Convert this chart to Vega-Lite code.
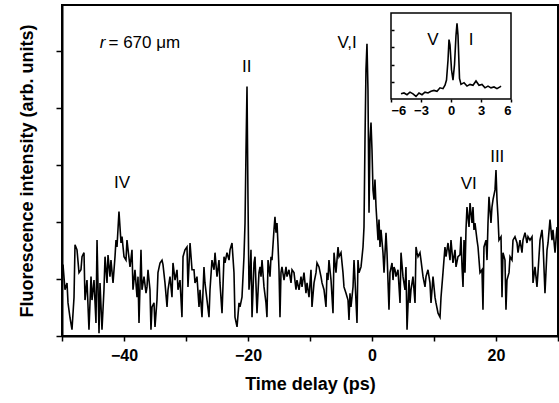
{
  "$schema": "https://vega.github.io/schema/vega-lite/v6.json",
  "width": 496,
  "height": 331,
  "autosize": {"type": "none"},
  "padding": {"left": 62, "top": 5, "right": 1, "bottom": 67},
  "background": "white",
  "config": {
    "view": {"stroke": "black", "strokeWidth": 2},
    "font": "Liberation Sans",
    "axis": {"domainColor": "black", "domainWidth": 2, "tickColor": "black", "tickWidth": 1.5, "labelColor": "black", "titleColor": "black", "grid": false, "labelFont": "Liberation Sans", "titleFont": "Liberation Sans"}
  },
  "datasets": {
    "main": [
      {"t": -50.0, "v": 1.07}, {"t": -49.84, "v": 1.25}, {"t": -49.52, "v": 0.81}, {"t": -49.19, "v": 0.93}, {"t": -49.03, "v": 0.58}, {"t": -48.71, "v": 0.32}, {"t": -48.39, "v": 0.11}, {"t": -48.06, "v": 0.68}, {"t": -47.9, "v": 1.6}, {"t": -47.58, "v": 1.51}, {"t": -47.26, "v": 1.11}, {"t": -46.94, "v": 1.16}, {"t": -46.77, "v": 1.39}, {"t": -46.45, "v": 1.46}, {"t": -46.29, "v": 0.63}, {"t": -45.97, "v": 0.98}, {"t": -45.65, "v": 0.11}, {"t": -45.32, "v": 1.04}, {"t": -45.16, "v": 0.63}, {"t": -44.84, "v": 0.98}, {"t": -44.52, "v": 0.23}, {"t": -44.35, "v": 1.68}, {"t": -44.03, "v": 0.05}, {"t": -43.87, "v": 0.93}, {"t": -43.55, "v": 0.11}, {"t": -43.23, "v": 0.81}, {"t": -43.06, "v": 1.39}, {"t": -42.74, "v": 0.93}, {"t": -42.58, "v": 1.42}, {"t": -42.26, "v": 1.04}, {"t": -42.1, "v": 1.33}, {"t": -41.77, "v": 0.93}, {"t": -41.45, "v": 1.39}, {"t": -41.29, "v": 1.68}, {"t": -41.13, "v": 1.56}, {"t": -40.81, "v": 2.18}, {"t": -40.48, "v": 1.63}, {"t": -40.32, "v": 1.74}, {"t": -40.0, "v": 1.39}, {"t": -39.68, "v": 1.33},
      {"t": -39.52, "v": 1.68}, {"t": -39.03, "v": 1.21}, {"t": -38.71, "v": 1.51}, {"t": -38.55, "v": 0.81}, {"t": -38.23, "v": 1.16}, {"t": -37.9, "v": 0.68}, {"t": -37.74, "v": 1.04}, {"t": -37.58, "v": 0.23}, {"t": -37.26, "v": 1.51}, {"t": -37.1, "v": 0.81}, {"t": -36.77, "v": 1.04}, {"t": -36.45, "v": 0.75}, {"t": -36.29, "v": 0.86}, {"t": -36.13, "v": 1.16}, {"t": -35.81, "v": 0.81}, {"t": -35.65, "v": 0.11}, {"t": -35.48, "v": 0.51}, {"t": -35.16, "v": 0.58}, {"t": -35.0, "v": 0.16}, {"t": -34.68, "v": 0.63}, {"t": -34.52, "v": 1.11}, {"t": -34.19, "v": 1.28}, {"t": -33.87, "v": 1.33}, {"t": -33.71, "v": 1.25}, {"t": -33.39, "v": 0.93}, {"t": -33.06, "v": 0.51}, {"t": -32.9, "v": 0.81}, {"t": -32.58, "v": 1.04}, {"t": -32.26, "v": 0.68}, {"t": -32.1, "v": 1.28}, {"t": -31.77, "v": 0.98}, {"t": -31.45, "v": 1.16}, {"t": -31.29, "v": 0.81}, {"t": -30.97, "v": 0.98}, {"t": -30.65, "v": 0.33}, {"t": -30.48, "v": 1.39}, {"t": -30.16, "v": 1.51}, {"t": -29.84, "v": 1.56}, {"t": -29.68, "v": 0.86}, {"t": -29.35, "v": 1.63}, {"t": -29.03, "v": 1.16},
      {"t": -28.71, "v": 1.16}, {"t": -28.55, "v": 0.93}, {"t": -28.23, "v": 1.04}, {"t": -27.9, "v": 0.51}, {"t": -27.74, "v": 0.81}, {"t": -27.42, "v": 0.33}, {"t": -27.1, "v": 1.21}, {"t": -26.94, "v": 0.93}, {"t": -26.61, "v": 0.63}, {"t": -26.29, "v": 0.33}, {"t": -26.13, "v": 0.81}, {"t": -25.81, "v": 1.33}, {"t": -25.48, "v": 1.16}, {"t": -25.32, "v": 1.46}, {"t": -25.0, "v": 1.04}, {"t": -24.68, "v": 1.33}, {"t": -24.52, "v": 0.93}, {"t": -24.19, "v": 0.4}, {"t": -23.87, "v": 1.39}, {"t": -23.71, "v": 1.28}, {"t": -23.39, "v": 1.46}, {"t": -23.06, "v": 1.33}, {"t": -22.9, "v": 1.51}, {"t": -22.58, "v": 1.63}, {"t": -22.26, "v": 1.11}, {"t": -22.1, "v": 0.33}, {"t": -21.77, "v": 0.16}, {"t": -21.45, "v": 0.58}, {"t": -21.29, "v": 0.51}, {"t": -20.97, "v": 0.68}, {"t": -20.65, "v": 1.39}, {"t": -20.48, "v": 1.98}, {"t": -20.32, "v": 3.26}, {"t": -20.16, "v": 4.37}, {"t": -20.0, "v": 2.39}, {"t": -19.84, "v": 0.81}, {"t": -19.68, "v": 1.04}, {"t": -19.52, "v": 1.51}, {"t": -19.35, "v": 0.33}, {"t": -19.03, "v": 1.28}, {"t": -18.87, "v": 1.39}, {"t": -18.55, "v": 0.4}, {"t": -18.23, "v": 1.11}, {"t": -18.06, "v": 1.21},
      {"t": -17.9, "v": 1.04}, {"t": -17.74, "v": 1.33}, {"t": -17.42, "v": 0.86}, {"t": -17.1, "v": 0.58}, {"t": -16.94, "v": 0.33}, {"t": -16.77, "v": 1.33}, {"t": -16.45, "v": 1.04}, {"t": -16.29, "v": 1.39}, {"t": -16.13, "v": 1.33}, {"t": -15.81, "v": 1.86}, {"t": -15.65, "v": 2.09}, {"t": -15.48, "v": 1.81}, {"t": -15.32, "v": 1.98}, {"t": -15.16, "v": 1.6}, {"t": -15.0, "v": 1.16}, {"t": -14.84, "v": 0.33}, {"t": -14.68, "v": 1.11}, {"t": -14.52, "v": 1.21}, {"t": -14.19, "v": 0.98}, {"t": -13.87, "v": 1.21}, {"t": -13.71, "v": 1.04}, {"t": -13.39, "v": 1.16}, {"t": -13.06, "v": 0.93}, {"t": -12.9, "v": 1.16}, {"t": -12.58, "v": 1.11}, {"t": -12.26, "v": 0.81}, {"t": -12.1, "v": 0.98}, {"t": -11.77, "v": 0.81}, {"t": -11.45, "v": 1.04}, {"t": -11.29, "v": 0.86}, {"t": -10.97, "v": 1.11}, {"t": -10.65, "v": 0.75}, {"t": -10.48, "v": 0.93}, {"t": -10.16, "v": 0.68}, {"t": -9.84, "v": 1.16}, {"t": -9.68, "v": 0.51}, {"t": -9.35, "v": 0.93}, {"t": -9.03, "v": 1.11}, {"t": -8.87, "v": 1.28}, {"t": -8.55, "v": 1.21}, {"t": -8.23, "v": 1.04}, {"t": -8.06, "v": 0.93}, {"t": -7.74, "v": 0.81}, {"t": -7.42, "v": 0.51}, {"t": -7.26, "v": 1.11},
      {"t": -7.1, "v": 0.98}, {"t": -6.94, "v": 1.33}, {"t": -6.61, "v": 0.98}, {"t": -6.29, "v": 0.4}, {"t": -6.13, "v": 1.46}, {"t": -5.81, "v": 1.11}, {"t": -5.48, "v": 1.56}, {"t": -5.32, "v": 1.39}, {"t": -5.0, "v": 1.46}, {"t": -4.68, "v": 1.11}, {"t": -4.52, "v": 0.86}, {"t": -4.19, "v": 0.75}, {"t": -3.87, "v": 0.63}, {"t": -3.71, "v": 0.28}, {"t": -3.55, "v": 0.75}, {"t": -3.39, "v": 0.51}, {"t": -3.06, "v": 0.86}, {"t": -2.9, "v": 1.33}, {"t": -2.74, "v": 0.98}, {"t": -2.42, "v": 0.23}, {"t": -2.26, "v": 1.33}, {"t": -2.1, "v": 1.11}, {"t": -1.77, "v": 1.21}, {"t": -1.45, "v": 1.56}, {"t": -1.29, "v": 1.91}, {"t": -1.13, "v": 3.44}, {"t": -0.97, "v": 4.67}, {"t": -0.81, "v": 5.12}, {"t": -0.65, "v": 4.32}, {"t": -0.48, "v": 2.16}, {"t": -0.32, "v": 3.44}, {"t": -0.16, "v": 3.74}, {"t": 0.0, "v": 3.26}, {"t": 0.16, "v": 2.56}, {"t": 0.32, "v": 2.39}, {"t": 0.48, "v": 2.74}, {"t": 0.65, "v": 2.26}, {"t": 0.97, "v": 1.68}, {"t": 1.13, "v": 2.04}, {"t": 1.29, "v": 1.56}, {"t": 1.45, "v": 1.86}, {"t": 1.77, "v": 1.46}, {"t": 1.94, "v": 1.11}, {"t": 2.26, "v": 1.81}, {"t": 2.42, "v": 1.46}, {"t": 2.74, "v": 0.46}, {"t": 2.9, "v": 1.11}, {"t": 3.23, "v": 1.28}, {"t": 3.39, "v": 0.98}, {"t": 3.55, "v": 1.21},
      {"t": 3.71, "v": 1.16}, {"t": 3.87, "v": 1.04}, {"t": 4.19, "v": 1.16}, {"t": 4.52, "v": 0.58}, {"t": 4.68, "v": 1.46}, {"t": 5.0, "v": 1.04}, {"t": 5.32, "v": 0.81}, {"t": 5.48, "v": 1.21}, {"t": 5.65, "v": 0.11}, {"t": 5.97, "v": 0.98}, {"t": 6.13, "v": 0.58}, {"t": 6.29, "v": 0.81}, {"t": 6.61, "v": 1.04}, {"t": 6.94, "v": 0.58}, {"t": 7.1, "v": 1.56}, {"t": 7.26, "v": 1.46}, {"t": 7.42, "v": 1.39}, {"t": 7.74, "v": 1.46}, {"t": 7.9, "v": 1.33}, {"t": 8.23, "v": 1.04}, {"t": 8.55, "v": 0.86}, {"t": 8.71, "v": 1.04}, {"t": 9.03, "v": 1.16}, {"t": 9.35, "v": 0.93}, {"t": 9.52, "v": 0.58}, {"t": 9.84, "v": 1.04}, {"t": 10.16, "v": 0.68}, {"t": 10.32, "v": 0.58}, {"t": 10.65, "v": 0.4}, {"t": 10.97, "v": 0.33}, {"t": 11.13, "v": 0.68}, {"t": 11.45, "v": 1.11}, {"t": 11.77, "v": 1.56}, {"t": 11.94, "v": 1.39}, {"t": 12.26, "v": 1.63}, {"t": 12.58, "v": 1.33}, {"t": 12.74, "v": 1.68}, {"t": 13.06, "v": 1.28}, {"t": 13.39, "v": 1.51}, {"t": 13.55, "v": 1.21}, {"t": 13.87, "v": 1.39}, {"t": 14.19, "v": 1.42}, {"t": 14.35, "v": 1.74},
      {"t": 14.52, "v": 1.21}, {"t": 14.68, "v": 0.86}, {"t": 14.84, "v": 1.68}, {"t": 15.0, "v": 1.11}, {"t": 15.16, "v": 1.86}, {"t": 15.32, "v": 2.26}, {"t": 15.65, "v": 1.91}, {"t": 15.81, "v": 2.33}, {"t": 16.13, "v": 1.98}, {"t": 16.29, "v": 2.26}, {"t": 16.45, "v": 1.86}, {"t": 16.61, "v": 1.98}, {"t": 16.94, "v": 1.68}, {"t": 17.1, "v": 1.56}, {"t": 17.42, "v": 1.11}, {"t": 17.74, "v": 1.16}, {"t": 17.9, "v": 0.46}, {"t": 18.06, "v": 1.56}, {"t": 18.39, "v": 1.68}, {"t": 18.55, "v": 1.33}, {"t": 18.71, "v": 1.98}, {"t": 18.87, "v": 2.44}, {"t": 19.19, "v": 1.98}, {"t": 19.35, "v": 2.26}, {"t": 19.52, "v": 2.39}, {"t": 19.84, "v": 2.56}, {"t": 20.0, "v": 2.91}, {"t": 20.16, "v": 2.39}, {"t": 20.32, "v": 2.09}, {"t": 20.48, "v": 1.68}, {"t": 20.81, "v": 1.74}, {"t": 20.97, "v": 0.68}, {"t": 21.13, "v": 1.46}, {"t": 21.45, "v": 1.33}, {"t": 21.61, "v": 0.46}, {"t": 21.77, "v": 0.98}, {"t": 22.1, "v": 1.11}, {"t": 22.26, "v": 1.39}, {"t": 22.58, "v": 1.33}, {"t": 22.74, "v": 1.68}, {"t": 23.06, "v": 1.74}, {"t": 23.39, "v": 1.63}, {"t": 23.55, "v": 1.46}, {"t": 23.87, "v": 1.68}, {"t": 24.19, "v": 1.46}, {"t": 24.35, "v": 1.68}, {"t": 24.68, "v": 1.81}, {"t": 25.0, "v": 1.63}, {"t": 25.16, "v": 1.74}, {"t": 25.48, "v": 1.68}, {"t": 25.81, "v": 1.74}, {"t": 25.97, "v": 0.93}, {"t": 26.29, "v": 1.21}, {"t": 26.61, "v": 0.86}, {"t": 26.77, "v": 1.11}, {"t": 27.1, "v": 1.68}, {"t": 27.42, "v": 1.86}, {"t": 27.58, "v": 1.63}, {"t": 27.9, "v": 0.75}, {"t": 28.23, "v": 1.51}, {"t": 28.39, "v": 1.63}, {"t": 28.71, "v": 2.04}, {"t": 29.03, "v": 1.68}, {"t": 29.19, "v": 1.86}, {"t": 29.52, "v": 1.46}, {"t": 29.84, "v": 1.91}
    ],
    "inset": [
      {"t": -5.0, "v": 0.06}, {"t": -4.7, "v": 0.07}, {"t": -4.4, "v": 0.05}, {"t": -4.1, "v": 0.08}, {"t": -3.8, "v": 0.06}, {"t": -3.5, "v": 0.03}, {"t": -3.2, "v": 0.07}, {"t": -2.9, "v": 0.05}, {"t": -2.6, "v": 0.08}, {"t": -2.3, "v": 0.07}, {"t": -2.0, "v": 0.09}, {"t": -1.7, "v": 0.1}, {"t": -1.4, "v": 0.09}, {"t": -1.1, "v": 0.13}, {"t": -0.8, "v": 0.12}, {"t": -0.6, "v": 0.16}, {"t": -0.45, "v": 0.22}, {"t": -0.3, "v": 0.45}, {"t": -0.2, "v": 0.69}, {"t": -0.1, "v": 0.63}, {"t": 0.05, "v": 0.34}, {"t": 0.2, "v": 0.22}, {"t": 0.35, "v": 0.4}, {"t": 0.5, "v": 0.74}, {"t": 0.6, "v": 0.88}, {"t": 0.7, "v": 0.74}, {"t": 0.85, "v": 0.24}, {"t": 1.0, "v": 0.17}, {"t": 1.3, "v": 0.19}, {"t": 1.6, "v": 0.15}, {"t": 1.9, "v": 0.17}, {"t": 2.2, "v": 0.16}, {"t": 2.5, "v": 0.21}, {"t": 2.8, "v": 0.16}, {"t": 3.1, "v": 0.17}, {"t": 3.4, "v": 0.13}, {"t": 3.7, "v": 0.15}, {"t": 4.0, "v": 0.13}, {"t": 4.3, "v": 0.14}, {"t": 4.6, "v": 0.12}, {"t": 4.9, "v": 0.14}, {"t": 5.0, "v": 0.15}
    ]
  },
  "layer": [
    {
      "layer": [
        {
          "data": {"name": "main"},
          "mark": {"type": "line", "color": "black", "strokeWidth": 1.6, "clip": true},
          "encoding": {
            "x": {"field": "t", "type": "quantitative", "scale": {"domain": [-50, 30], "nice": false, "zero": false},
              "axis": {"orient": "bottom", "values": [-50, -40, -30, -20, -10, 0, 10, 20, 30], "labelExpr": "datum.value % 20 == 0 ? datum.label : ''", "tickSize": 5, "labelFontSize": 16, "labelFontWeight": "bold", "labelPadding": 6, "title": "Time delay (ps)", "titleFontSize": 18, "titleFontWeight": "bold", "titlePadding": 12}},
            "y": {"field": "v", "type": "quantitative", "scale": {"domain": [0, 5.8], "nice": false},
              "axis": {"orient": "left", "values": [0, 1, 2, 3, 4, 5], "labels": false, "tickSize": 6, "title": "Fluorescence intensity (arb. units)", "titleFontSize": 18, "titleFontWeight": "bold", "titlePadding": 19}}
          }
        },
        {
          "data": {"values": [
            {"t": -40.3, "v": 2.68, "label": "IV"},
            {"t": -20.2, "v": 4.72, "label": "II"},
            {"t": -4.0, "v": 5.14, "label": "V,I"},
            {"t": 15.6, "v": 2.66, "label": "VI"},
            {"t": 20.2, "v": 3.14, "label": "III"}
          ]},
          "mark": {"type": "text", "fontSize": 17, "color": "black", "align": "center", "baseline": "middle"},
          "encoding": {
            "x": {"field": "t", "type": "quantitative"},
            "y": {"field": "v", "type": "quantitative"},
            "text": {"field": "label"}
          }
        },
        {
          "data": {"values": [{}]},
          "mark": {"type": "text", "fontSize": 17, "fontStyle": "italic", "color": "black", "align": "left", "baseline": "middle", "text": "r"},
          "encoding": {"x": {"datum": -43.9}, "y": {"datum": 5.14}}
        },
        {
          "data": {"values": [{}]},
          "mark": {"type": "text", "fontSize": 17, "color": "black", "align": "left", "baseline": "middle", "text": "= 670 μm"},
          "encoding": {"x": {"datum": -42.5}, "y": {"datum": 5.14}}
        }
      ]
    },
    {
      "layer": [
        {
          "data": {"values": [{}]},
          "mark": {"type": "rect", "fill": "white", "fillOpacity": 0, "stroke": "black", "strokeWidth": 1.5},
          "encoding": {
            "x": {"datum": -6, "type": "quantitative", "scale": {"domain": [-6, 6], "range": [329, 449], "nice": false, "zero": false},
              "axis": {"orient": "bottom", "offset": -237, "values": [-6, -3, 0, 3, 6], "domain": false, "tickSize": 3, "labelFontSize": 13, "labelFontWeight": "bold", "labelPadding": 2, "title": null}},
            "x2": {"datum": 6},
            "y": {"datum": 0, "type": "quantitative", "scale": {"domain": [0, 1], "range": [94, 8], "nice": false, "zero": false},
              "axis": {"orient": "left", "offset": -329, "values": [0.2, 0.4, 0.6, 0.8], "domain": false, "labels": false, "tickSize": -3, "title": null}},
            "y2": {"datum": 1}
          }
        },
        {
          "data": {"name": "inset"},
          "mark": {"type": "line", "color": "black", "strokeWidth": 1.6},
          "encoding": {
            "x": {"field": "t", "type": "quantitative"},
            "y": {"field": "v", "type": "quantitative"}
          }
        },
        {
          "data": {"values": [
            {"t": -1.8, "v": 0.69, "label": "V"},
            {"t": 2.0, "v": 0.69, "label": "I"}
          ]},
          "mark": {"type": "text", "fontSize": 17, "color": "black", "align": "center", "baseline": "middle"},
          "encoding": {
            "x": {"field": "t", "type": "quantitative"},
            "y": {"field": "v", "type": "quantitative"},
            "text": {"field": "label"}
          }
        }
      ]
    }
  ],
  "resolve": {"scale": {"x": "independent", "y": "independent"}, "axis": {"x": "independent", "y": "independent"}}
}
